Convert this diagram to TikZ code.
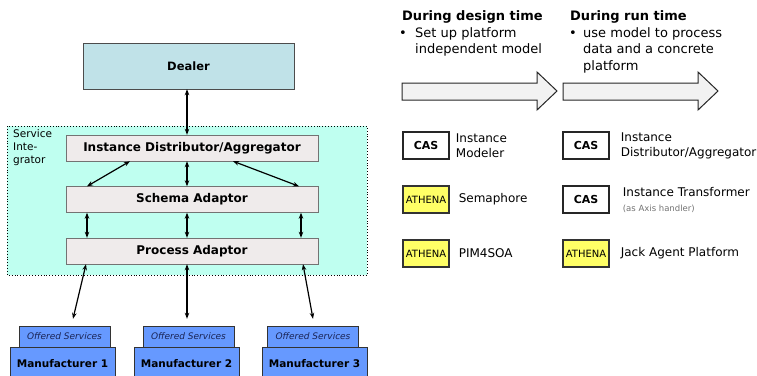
\documentclass[tikz,border=0pt]{standalone}
\usepackage{fontspec}
\setmainfont{DejaVu Sans}
\usetikzlibrary{arrows.meta,positioning}

\definecolor{integrator}{HTML}{BFFFF0}
\definecolor{dealerblue}{HTML}{C0E2E8}
\definecolor{unitgray}{HTML}{EFEBEB}
\definecolor{makerblue}{HTML}{6699FF}
\definecolor{athenayellow}{HTML}{FFFF66}
\definecolor{arrowgray}{HTML}{F2F2F2}
\definecolor{offertext}{HTML}{1A2455}

\tikzset{
  unit/.style={draw=black!55, fill=unitgray, minimum width=252pt, minimum height=26pt, inner sep=0pt, font=\fontsize{12}{14}\selectfont\bfseries},
  dealerbox/.style={draw=black!70, fill=dealerblue, minimum width=211pt, minimum height=46pt, inner sep=0pt, font=\fontsize{11.5}{13}\selectfont\bfseries},
  offered/.style={draw=black!80, fill=makerblue, minimum width=91pt, minimum height=21pt, inner sep=0pt, text=offertext, font=\fontsize{9}{10}\selectfont\itshape},
  maker/.style={draw=black!80, fill=makerblue, minimum width=105pt, minimum height=33pt, inner sep=0pt, font=\fontsize{10.5}{12}\selectfont\bfseries},
  link/.style={{Stealth[length=6pt,width=4.5pt]}-{Stealth[length=6pt,width=4.5pt]}, line width=1.2pt},
  bigarrow/.style={draw=black!85, fill=arrowgray, line width=1pt},
  casbox/.style={draw=black!85, fill=white, line width=1.4pt, minimum width=46pt, minimum height=27pt, inner sep=0pt, font=\fontsize{11}{13}\selectfont\bfseries},
  athenabox/.style={draw=black!80, fill=athenayellow, line width=1.2pt, minimum width=46pt, minimum height=27pt, inner sep=0pt, font=\fontsize{10}{12}\selectfont},
  tool/.style={inner sep=0pt, align=left, font=\fontsize{12}{15}\selectfont},
  heading/.style={inner sep=0pt, font=\fontsize{13}{16}\selectfont\bfseries},
  note/.style={inner sep=0pt, align=left, font=\fontsize{13}{16.5}\selectfont}
}

\begin{document}
\begin{tikzpicture}[x=1pt,y=-1pt]

% page frame
\clip (0,0) rectangle (757,375);
\fill[white] (0,0) rectangle (757,375);

% Service integrator area
\draw[fill=integrator, dotted, line width=0.9pt] (7,126) rectangle (367,275);
\node[anchor=north west, align=left, inner sep=0pt, font=\fontsize{10.5}{13}\selectfont] (sitext) at (13,129) {Service\\Inte-\\grator};

% Dealer and the three units
\node[dealerbox] (dealer) at (188.5,66) {Dealer};
\node[unit] (ida) at (192,148) {Instance Distributor/Aggregator};
\node[unit] (schema) at (192,199.5) {Schema Adaptor};
\node[unit] (process) at (192,251) {Process Adaptor};

% Manufacturers with their offered services
\foreach \i/\mx/\ox in {1/62.5/64.5, 2/186.5/188.5, 3/314.5/313}{
  \node[maker] (maker\i) at (\mx,363.5) {Manufacturer \i};
  \node[offered] (offer\i) at (\ox,336.5) {Offered Services};
}

% Connections
\draw[link] ([xshift=-1.5pt]dealer.south) -- ([xshift=-5pt]ida.north);
\draw[link] ([xshift=-62pt]ida.south) -- ([xshift=-105pt]schema.north);
\draw[link] ([xshift=-5pt]ida.south) -- ([xshift=-5pt]schema.north);
\draw[link] ([xshift=41pt]ida.south) -- ([xshift=107pt]schema.north);
\foreach \dx in {-105,-5,109}
  \draw[link] ([xshift=\dx pt]schema.south) -- ([xshift=\dx pt]process.north);
\draw[link] ([xshift=-106pt]process.south) -- ([xshift=8.5pt,yshift=7pt]offer1.north);
\draw[link] ([xshift=-5pt]process.south) -- ([xshift=-1.5pt,yshift=7pt]offer2.north);
\draw[link] ([xshift=111pt]process.south) -- ([yshift=7pt]offer3.north);

% Design time / run time
\node[heading, anchor=base west] (design) at (402,20) {During design time};
\node[heading, anchor=base west] (run) at (570,20) {During run time};
\node[note, anchor=base west] (designdot) at (399,37) {•};
\node[note, anchor=north west] (designtxt) at (415,27) {Set up platform\\independent model};
\node[note, anchor=base west] (rundot) at (569,37) {•};
\node[note, anchor=north west] (runtxt) at (583,27) {use model to process\\data and a concrete\\platform};

\foreach \x in {402,563}
  \draw[bigarrow] (\x,83) -- ({\x+135},83) -- ({\x+135},72) -- ({\x+155},91)
    -- ({\x+135},110) -- ({\x+135},100) -- (\x,100) -- cycle;

% Legend
\node[casbox] (cas1) at (426,145.5) {CAS};
\node[athenabox] (ath1) at (426,199.5) {ATHENA};
\node[athenabox] (ath2) at (426,253.5) {ATHENA};
\node[casbox] (cas2) at (586,145.5) {CAS};
\node[casbox] (cas3) at (586,199.5) {CAS};
\node[athenabox] (ath3) at (586,253.5) {ATHENA};

\node[tool, right=6pt of cas1] (modeler) {Instance\\Modeler};
\node[tool, right=9pt of ath1] (semaphore) {Semaphore};
\node[tool, right=9pt of ath2] (pim) {PIM4SOA};
\node[tool, right=11pt of cas2] (distrib) {Instance\\Distributor/Aggregator};
\node[tool, right=13pt of cas3] (transformer) {Instance Transformer\\{\fontsize{8.5}{10}\selectfont\color{black!55}(as Axis handler)}};
\node[tool, right=11pt of ath3] (jack) {Jack Agent Platform};

\end{tikzpicture}
\end{document}
